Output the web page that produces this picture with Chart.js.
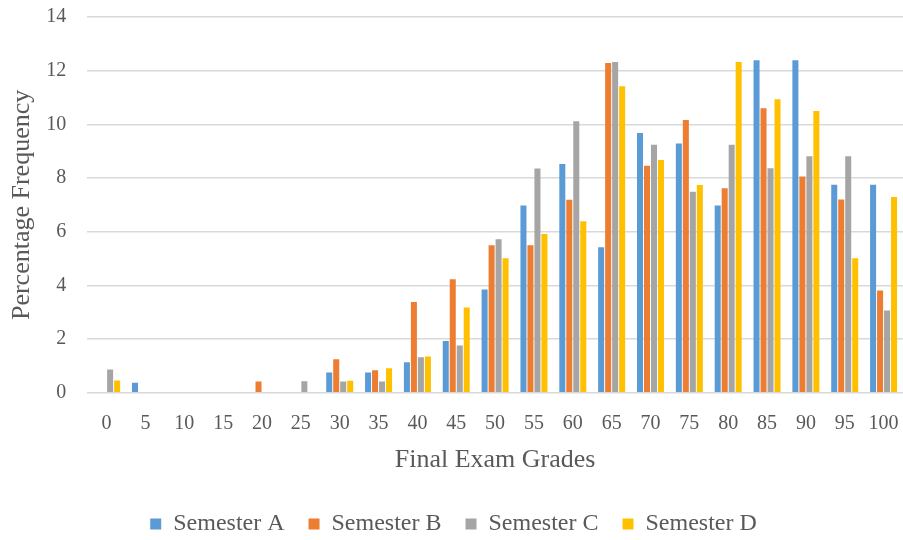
<!DOCTYPE html>
<html>
<head>
<meta charset="utf-8">
<script src="https://cdn.jsdelivr.net/npm/chart.js@4"></script>
<style>
  html, body { margin: 0; padding: 0; background: #fff; }
  #wrap { width: 903px; height: 540px; }
</style>
</head>
<body>
<div id="wrap"><canvas id="gradesChart" width="903" height="540"></canvas></div>
<script>
const grades = ['0', '5', '10', '15', '20', '25', '30', '35', '40', '45', '50',
                '55', '60', '65', '70', '75', '80', '85', '90', '95', '100'];

const semesterA = [0, 0.37, 0, 0, 0, 0, 0.76, 0.76, 1.14, 1.93, 3.85,
                   6.98, 8.52, 5.42, 9.68, 9.29, 6.98, 12.39, 12.39, 7.75, 7.75];
const semesterB = [0, 0, 0, 0, 0.42, 0, 1.25, 0.84, 3.38, 4.23, 5.50,
                   5.50, 7.19, 12.29, 8.46, 10.16, 7.62, 10.60, 8.06, 7.20, 3.81];
const semesterC = [0.87, 0, 0, 0, 0, 0.43, 0.42, 0.42, 1.32, 1.76, 5.72,
                   8.36, 10.12, 12.32, 9.24, 7.49, 9.24, 8.37, 8.81, 8.81, 3.07];
const semesterD = [0.46, 0, 0, 0, 0, 0, 0.45, 0.91, 1.35, 3.18, 5.01,
                   5.92, 6.39, 11.42, 8.67, 7.74, 12.32, 10.94, 10.50, 5.01, 7.29];

const textColor = '#595959';
const serif = "'Liberation Serif', 'Times New Roman', serif";

function series(label, data, color) {
    return {
        label: label,
        data: data,
        backgroundColor: color,
        borderWidth: 0,
        categoryPercentage: 0.72,
        barPercentage: 0.86
    };
}

document.addEventListener('DOMContentLoaded', () => {
    const ctx = document.getElementById('gradesChart').getContext('2d');

    new Chart(ctx, {
        type: 'bar',
        data: {
            labels: grades,
            datasets: [
                series('Semester A', semesterA, '#5B9BD5'),
                series('Semester B', semesterB, '#ED7D31'),
                series('Semester C', semesterC, '#A5A5A5'),
                series('Semester D', semesterD, '#FFC000')
            ]
        },
        options: {
            responsive: false,
            animation: false,
            layout: { padding: { top: 17, right: 0, bottom: -6, left: 4 } },
            plugins: {
                tooltip: { enabled: false },
                legend: {
                    position: 'bottom',
                    labels: {
                        boxWidth: 11,
                        boxHeight: 11,
                        padding: 24,
                        color: textColor,
                        font: { family: serif, size: 24 }
                    }
                }
            },
            scales: {
                x: {
                    grid: { display: false, drawTicks: false },
                    border: { display: false },
                    ticks: {
                        color: textColor,
                        padding: 19,
                        maxRotation: 0,
                        autoSkip: false,
                        font: { family: serif, size: 20 }
                    },
                    title: {
                        display: true,
                        text: 'Final Exam Grades',
                        color: textColor,
                        padding: { top: -10, bottom: 12 },
                        font: { family: serif, size: 26 }
                    },
                    // plot runs to the right edge, no room kept for the last label
                    afterFit: (scale) => {
                        scale.paddingLeft = 0;
                        scale.paddingRight = 0;
                    }
                },
                y: {
                    min: 0,
                    max: 14,
                    grid: { color: '#d9d9d9', lineWidth: 1.5, drawTicks: false },
                    border: { display: false },
                    ticks: {
                        stepSize: 2,
                        color: textColor,
                        padding: 21,
                        font: { family: serif, size: 20 }
                    },
                    title: {
                        display: true,
                        text: 'Percentage Frequency',
                        color: textColor,
                        padding: { top: 3, bottom: -13 },
                        font: { family: serif, size: 26 }
                    },
                    afterFit: (scale) => {
                        scale.paddingTop = 0;
                        scale.paddingBottom = 0;
                    }
                }
            }
        }
    });
});
</script>
</body>
</html>
